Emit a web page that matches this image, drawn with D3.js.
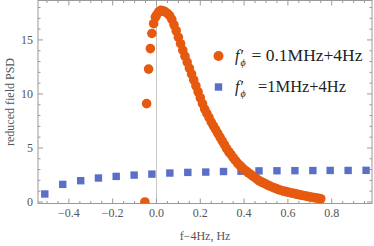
<!DOCTYPE html>
<html><head><meta charset="utf-8">
<script src="https://cdn.jsdelivr.net/npm/d3@7"></script>
<style>
html,body{margin:0;padding:0;background:#fff;}
svg{display:block;}
text{font-family:"Liberation Serif","DejaVu Serif",serif;}
</style></head>
<body>
<svg id="c" width="374" height="246"></svg>
<script>
// ---- data ----
const orangeX = [-0.053,-0.045,-0.036,-0.028,-0.021,-0.013,-0.005,
 0.00,0.01,0.02,0.03,0.04,0.05,0.06,0.07,0.08,0.09,
 0.10,0.11,0.12,0.13,0.14,0.15,0.16,0.17,0.18,0.19,
 0.20,0.21,0.22,0.23,0.24,0.25,0.26,0.27,0.28,0.29,
 0.30,0.31,0.32,0.33,0.34,0.35,0.36,0.37,0.38,0.39,
 0.40,0.41,0.42,0.43,0.44,0.45,0.46,0.47,0.48,0.49,
 0.50,0.51,0.52,0.53,0.54,0.55,0.56,0.57,0.58,0.59,
 0.60,0.61,0.62,0.63,0.64,0.65,0.66,0.67,0.68,0.69,
 0.70,0.71,0.72,0.73,0.74,0.75];
const orangeY = [0,9.1,12.3,14.2,15.6,16.5,17.1,
 17.3,17.6,17.75,17.7,17.6,17.45,17.25,16.9,16.4,15.85,
 15.25,14.65,14.05,13.5,12.95,12.4,11.85,11.3,10.75,10.2,
 9.65,9.1,8.6,8.2,7.8,7.4,7.05,6.7,6.35,6.0,
 5.65,5.3,4.95,4.65,4.4,4.1,3.85,3.6,3.4,3.2,
 3.0,2.85,2.7,2.55,2.4,2.25,2.1,1.95,1.85,1.75,
 1.65,1.55,1.45,1.37,1.29,1.21,1.13,1.07,1.01,0.96,
 0.91,0.86,0.82,0.77,0.73,0.68,0.64,0.6,0.56,0.52,
 0.48,0.44,0.40,0.37,0.33,0.30];
const blueX = [-0.51,-0.428,-0.346,-0.265,-0.184,-0.102,-0.021,0.061,0.143,0.225,
 0.306,0.386,0.468,0.55,0.632,0.714,0.793,0.875,0.957];
const blueY = [0.74,1.63,1.97,2.22,2.37,2.49,2.58,2.68,2.74,2.77,
 2.82,2.85,2.88,2.89,2.9,2.91,2.92,2.92,2.93];
const xTicks = [-0.4,-0.2,0.0,0.2,0.4,0.6,0.8];
const xTickLabels = ["\u22120.4","\u22120.2","0.0","0.2","0.4","0.6","0.8"];
const yTicks = [0,5,10,15];
const legendLabels = ["= 0.1MHz+4Hz","=1MHz+4Hz"];
const xLabel = "f\u22124Hz, Hz";
const yLabel = "reduced field PSD";

// ---- layout ----
const L = 38, R = 372, T = 0.5, B = 203.5;
const x = d3.scaleLinear().domain([-0.541, 0.984]).range([L, R]);
const y = d3.scaleLinear().domain([-0.14, 18.65]).range([B, T]);
const svg = d3.select("#c");
const frameColor = "#9a9a9a", textColor = "#555";
const orange = "#e65a10", blue = "#5b6fc9";

// zero line
svg.append("line").attr("x1", x(0)).attr("x2", x(0)).attr("y1", T).attr("y2", B)
  .attr("stroke", "#c8c8c8").attr("stroke-width", 1);

// frame
svg.append("rect").attr("x", L).attr("y", T).attr("width", R - L).attr("height", B - T)
  .attr("fill", "none").attr("stroke", frameColor).attr("stroke-width", 1);

// ticks
const xMinor = d3.range(-0.5, 0.99, 0.05).filter(v => !xTicks.some(t => Math.abs(t - v) < 1e-6));
const yMinor = d3.range(0, 18.6, 1).filter(v => v % 5 !== 0);
const tg = svg.append("g").attr("stroke", frameColor).attr("stroke-width", 1);
xTicks.forEach(v => {
  tg.append("line").attr("x1", x(v)).attr("x2", x(v)).attr("y1", B).attr("y2", B - 5);
  tg.append("line").attr("x1", x(v)).attr("x2", x(v)).attr("y1", T).attr("y2", T + 5);
});
xMinor.forEach(v => {
  tg.append("line").attr("x1", x(v)).attr("x2", x(v)).attr("y1", B).attr("y2", B - 2.5);
  tg.append("line").attr("x1", x(v)).attr("x2", x(v)).attr("y1", T).attr("y2", T + 2.5);
});
yTicks.forEach(v => {
  tg.append("line").attr("x1", L).attr("x2", L + 5).attr("y1", y(v)).attr("y2", y(v));
  tg.append("line").attr("x1", R).attr("x2", R - 5).attr("y1", y(v)).attr("y2", y(v));
});
yMinor.forEach(v => {
  tg.append("line").attr("x1", L).attr("x2", L + 2.5).attr("y1", y(v)).attr("y2", y(v));
  tg.append("line").attr("x1", R).attr("x2", R - 2.5).attr("y1", y(v)).attr("y2", y(v));
});

// tick labels
svg.append("g").selectAll("text").data(xTicks).join("text")
  .attr("x", d => x(d)).attr("y", 217).attr("text-anchor", "middle")
  .attr("font-size", 12).attr("fill", textColor)
  .text((d, i) => xTickLabels[i]);
svg.append("g").selectAll("text").data(yTicks).join("text")
  .attr("x", 33).attr("y", d => y(d) + 4.3).attr("text-anchor", "end")
  .attr("font-size", 12).attr("fill", textColor)
  .text(d => d);

// axis labels
svg.append("text").attr("x", (L + R) / 2).attr("y", 240).attr("text-anchor", "middle")
  .attr("font-size", 12).attr("fill", textColor).text(xLabel);
svg.append("text").attr("transform", `translate(14,${(T + B) / 2}) rotate(-90)`)
  .attr("text-anchor", "middle").attr("font-size", 12).attr("fill", textColor).text(yLabel);

// data
const orangeData = orangeX.map((v, i) => [v, orangeY[i]]);
const blueData = blueX.map((v, i) => [v, blueY[i]]);
svg.append("clipPath").attr("id", "cp").append("rect")
  .attr("x", L).attr("y", T).attr("width", R - L).attr("height", B - T);
const pg = svg.append("g").attr("clip-path", "url(#cp)");
pg.selectAll("rect.b").data(blueData).join("rect").attr("class", "b")
  .attr("x", d => x(d[0]) - 3.7).attr("y", d => y(d[1]) - 3.7)
  .attr("width", 7.4).attr("height", 7.4).attr("fill", blue);
pg.selectAll("circle.o").data(orangeData).join("circle").attr("class", "o")
  .attr("cx", d => x(d[0])).attr("cy", d => y(d[1])).attr("r", 4.8).attr("fill", orange);

// legend
const lg = svg.append("g");
const ly = [56, 87];
const lx = [251.5, 258];
const lw = [111, 88];
lg.append("circle").attr("cx", 218.5).attr("cy", ly[0]).attr("r", 5).attr("fill", orange);
lg.append("rect").attr("x", 214.8).attr("y", ly[1] - 3.7).attr("width", 7.4).attr("height", 7.4).attr("fill", blue);
legendLabels.forEach((lab, i) => {
  const gx = 235, gy = ly[i] + 5;
  lg.append("text").attr("x", gx).attr("y", gy).attr("font-size", 16)
    .attr("font-style", "italic").attr("fill", "#222").text("f\u2032");
  lg.append("text").attr("x", gx + 5.5).attr("y", gy + 4.5).attr("font-size", 10)
    .attr("font-style", "italic").attr("fill", "#222").text("\u03d5");
  lg.append("text").attr("x", lx[i]).attr("y", gy).attr("font-size", 17)
    .attr("textLength", lw[i]).attr("lengthAdjust", "spacingAndGlyphs")
    .attr("fill", "#222").text(lab);
});
</script>
</body></html>
